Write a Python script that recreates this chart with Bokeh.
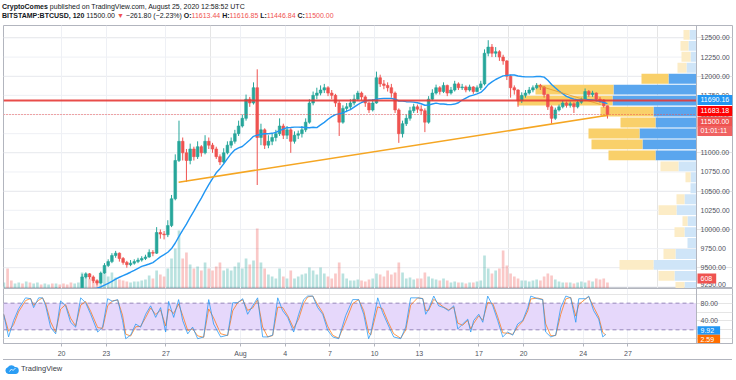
import numpy as np
from bokeh.plotting import figure
from bokeh.models import Range1d, FixedTicker, Grid, Span, Div, BoxAnnotation
from bokeh.layouts import column
from bokeh.embed import file_html
from bokeh.resources import INLINE
from bokeh.core.properties import value

FONT = "Liberation Sans"

# ---------------- header data ----------------
author = "CryptoComes"
pub_time = "August 25, 2020 12:58:52 UTC"
symbol = "BITSTAMP:BTCUSD"
interval = "120"
last_price = 11500.00
change = -261.80
change_pct = -2.23
ohlc_now = [11613.44, 11616.85, 11446.84, 11500.00]

# ---------------- candles (6h buckets, day = day-of-July, Aug 1 = 32) ----------------
first_day = 16.0
bucket = 0.25
first_open = 9170
closes = [
    9180, 9130, 9110, 9140,   9150, 9120, 9160, 9150,   9170, 9180, 9140, 9170,
    9200, 9190, 9220, 9210,   9180, 9170, 9150, 9160,   9200, 9380, 9420, 9380,
    9330, 9300, 9430, 9530,   9580, 9660, 9690, 9620,   9570, 9540, 9560, 9580,
    9600, 9620, 9640, 9700,   9690, 9960, 9940, 9930,   10050, 10400, 10900, 11150,
    11000, 10900, 11050, 10950,   11080, 11000, 11150, 11100,   11050, 10950, 10880, 11000,
    11100, 11150, 11250, 11350,   11450, 11700, 11650, 11850,   11200, 11300, 11100, 11150,
    11200, 11250, 11350, 11230,   11300, 11150, 11230, 11250,   11300, 11400, 11650, 11750,
    11780, 11820, 11850, 11780,   11750, 11650, 11400, 11580,   11600, 11650, 11700, 11780,
    11730, 11650, 11560, 11650,   11980, 11900, 11880, 11850,   11780, 11560, 11250, 11380,
    11450, 11550, 11600, 11570,   11550, 11400, 11700, 11780,   11850, 11800, 11880, 11780,
    11820, 11900, 11850, 11860,   11820, 11860, 11800, 11850,   11900, 12300, 12380, 12300,
    12320, 12250, 12200, 12000,   11850, 11820, 11680, 11750,   11780, 11820, 11850, 11880,
    11860, 11760, 11600, 11450,   11560, 11600, 11650, 11620,   11640, 11600, 11660, 11690,
    11800, 11760, 11780, 11700,   11690, 11613.44, 11500.00,
]
highs = [
    9210, 9190, 9150, 9160,   9170, 9160, 9180, 9180,   9190, 9210, 9190, 9190,
    9220, 9230, 9240, 9240,   9220, 9200, 9190, 9180,   9220, 9420, 9440, 9430,
    9400, 9350, 9450, 9560,   9610, 9690, 9720, 9700,   9640, 9590, 9600, 9610,
    9630, 9650, 9670, 9740,   9730, 10030, 10000, 9980,   10120, 10450, 10980, 11420,
    11200, 11050, 11120, 11080,   11150, 11100, 11230, 11200,   11130, 11080, 10980, 11060,
    11150, 11200, 11300, 11420,   11500, 11760, 11730, 11920,   12090, 11380, 11320, 11230,
    11260, 11300, 11450, 11380,   11350, 11320, 11280, 11290,   11350, 11450, 11700, 11800,
    11850, 11880, 11900, 11870,   11820, 11770, 11680, 11620,   11650, 11700, 11760, 11810,
    11800, 11750, 11670, 11700,   12060, 12020, 11950, 11920,   11900, 11800, 11580, 11420,
    11500, 11600, 11640, 11630,   11620, 11580, 11740, 11830,   11890, 11870, 11920, 11890,
    11860, 11940, 11920, 11900,   11880, 11890, 11870, 11880,   11940, 12350, 12470, 12420,
    12380, 12340, 12280, 12210,   12020, 11880, 11830, 11790,   11820, 11860, 11880, 11910,
    11900, 11870, 11770, 11620,   11590, 11630, 11680, 11670,   11670, 11660, 11690, 11720,
    11840, 11820, 11810, 11790,   11730, 11700, 11616.85,
]
lows = [
    9150, 9110, 9080, 9100,   9120, 9100, 9110, 9130,   9140, 9160, 9120, 9130,
    9160, 9170, 9180, 9190,   9160, 9140, 9130, 9130,   9150, 9190, 9360, 9350,
    9300, 9270, 9290, 9420,   9510, 9560, 9630, 9580,   9540, 9500, 9520, 9540,
    9560, 9580, 9600, 9630,   9650, 9680, 9880, 9870,   9900, 10030, 10380, 10880,
    10900, 10620, 10850, 10900,   10920, 10950, 10980, 11050,   11000, 10920, 10840, 10860,
    10980, 11060, 11120, 11220,   11330, 11420, 11600, 11630,   10580, 11100, 11050, 11060,
    11100, 11150, 11220, 11180,   11180, 11000, 11120, 11180,   11200, 11270, 11380, 11620,
    11700, 11750, 11780, 11740,   11700, 11600, 11220, 11380,   11530, 11570, 11620, 11680,
    11690, 11600, 11520, 11540,   11640, 11860, 11830, 11800,   11720, 11520, 11130, 11200,
    11350, 11420, 11520, 11520,   11500, 11270, 11380, 11680,   11760, 11760, 11780, 11740,
    11760, 11800, 11820, 11820,   11790, 11800, 11770, 11790,   11820, 11880, 12260, 12250,
    12250, 12200, 12150, 11950,   11720, 11760, 11600, 11650,   11720, 11760, 11790, 11830,
    11820, 11720, 11560, 11380,   11430, 11540, 11580, 11590,   11590, 11520, 11580, 11640,
    11680, 11730, 11730, 11670,   11650, 11590, 11446.84,
]
volumes = [
    600, 2000, 800, 500,   600, 500, 700, 600,   500, 600, 400, 500,
    400, 500, 500, 400,   500, 400, 600, 500,   600, 1600, 1200, 1000,
    900, 800, 1200, 1500,   1200, 1600, 1100, 900,   800, 700, 600, 700,
    700, 800, 900, 1300,   1000, 1800, 1400, 1200,   2000, 3000, 4000, 5800,
    3000, 3600, 2400, 2000,   2200, 1800, 2600, 2000,   1800, 2200, 2600, 1800,
    2000, 1800, 2200, 2600,   2000, 3000, 2400, 2800,   6000, 2600, 2000, 1400,
    1200, 1000, 2000, 1200,   1000, 1800, 1000, 1200,   1400, 1500, 2100, 1800,
    1400, 2100, 1500, 1200,   1000, 1500, 2600, 1500,   1000, 800, 800, 900,
    800, 700, 900, 1000,   1500, 1400, 1200, 1800,   1400, 1600, 2600, 1600,
    1000, 1100, 900, 1000,   1000, 1600, 1200, 1000,   900, 800, 1000, 800,
    600, 700, 600, 600,   500, 600, 600, 700,   800, 3300, 2000, 1500,
    1800, 2000, 3800, 2300,   1500, 1200, 1000, 800,   800, 700, 800, 900,
    800, 1200, 1500, 1300,   900, 700, 600, 600,   600, 500, 600, 700,
    600, 800, 700, 1000,   900, 1000, 608,
]
ma_period = 17
ma_last_label = 11690.16

# horizontal level & drawings
red_level = 11683.18
countdown = "01:01:11"
trend_day = [27.85, 56.64]
trend_price = [10616, 11490]
thin_day = [51.95, 56.17]
thin_price = [11879, 11630]

# volume profile (rows bottom -> top)
vp_first = 9179
vp_size = 143
vp_up = [12, 22, 43, 21, 9, 12, 9, 20, 12, 6, 6, 18, 41, 54, 57, 41, 43, 84, 83, 28, 10, 6, 8, 7]
vp_down = [9, 16, 34, 12, 0, 10, 5, 18, 8, 0, 5, 18, 47, 51, 51, 35, 53, 95, 78, 27, 9, 9, 8, 6]
va_low, va_high = 10895, 12039

# stochastic RSI (%K)
stoch_day = [16.11, 16.44, 16.78, 17.11, 17.58, 17.92, 18.12, 18.46, 18.72, 18.93, 19.26, 19.60,
             19.93, 20.27, 20.60, 20.94, 21.28, 21.61, 21.95, 22.42, 22.75, 23.09, 23.42, 23.76,
             24.09, 24.30, 24.63, 24.97, 25.30, 25.64, 25.97, 26.31, 26.64, 26.98, 27.18, 27.52,
             27.85, 28.12, 28.46, 28.79, 29.13, 29.53, 29.87, 30.20, 30.67, 31.14, 31.48, 31.81,
             32.15, 32.48, 32.82, 33.15, 33.49, 33.83, 34.16, 34.50, 34.83, 35.17, 35.57, 35.91,
             36.24, 36.51, 36.85, 37.18, 37.52, 37.85, 38.19, 38.59, 39.06, 39.53, 39.93, 40.27,
             40.60, 40.74, 41.21, 41.54, 41.88, 42.28, 42.75, 43.09, 43.42, 43.89, 44.23, 44.43,
             44.63, 44.97, 45.30, 45.64, 45.97, 46.31, 46.58, 46.91, 47.25, 47.45, 47.65, 47.99,
             48.26, 48.59, 48.93, 49.26, 49.60, 49.93, 50.27, 50.60, 50.94, 51.28, 51.48, 51.95,
             52.28, 52.48, 52.82, 53.15, 53.49, 53.83, 54.16, 54.50, 54.70, 55.17, 55.37, 55.70,
             56.04, 56.31, 56.51]
stoch_k = [55, 4, 41, 67, 92, 90, 70, 92, 92, 74, 26, 11, 85, 74, 37, 26, 92, 81, 55, 15, 26, 90, 84, 88,
           41, 0, 8, 33, 26, 55, 74, 48, 70, 15, 84, 48, 88, 41, 11, 26, 0, 4, 88, 33, 4, 8, 81, 81,
           90, 55, 74, 92, 4, 4, 8, 92, 63, 48, 15, 55, 88, 96, 96, 70, 55, 19, 4, 0, 52, 88, 88, 55,
           0, 11, 92, 59, 33, 4, 0, 26, 92, 92, 90, 55, 67, 96, 74, 70, 63, 74, 22, 33, 44, 15, 41, 55,
           37, 96, 74, 41, 4, 15, 8, 33, 41, 70, 96, 90, 88, 15, 4, 8, 70, 96, 92, 37, 90, 90, 96, 63,
           44, 4, 9.92]
stoch_d_last = 2.59

# axis ticks
day_ticks = [20, 23, 27, 32, 35, 38, 41, 44, 48, 51, 55, 58]
day_labels = ["20", "23", "27", "Aug", "4", "7", "10", "13", "17", "20", "24", "27"]
price_ticks = list(range(9250, 12501, 250))
stoch_ticks = [40, 80]

# ---------------- layout constants ----------------
W = 736
LEFT = 3
RIGHT = 4
CHART_PX = 693          # chart part of the frame, the price scale is to its right
FRAME_PX = W - LEFT - RIGHT
HEAD_H = 24
MAIN_H = 264
STO_H = 55
XAX_H = 16
FOOT_H = 21
X0, X1 = 16.1, 62.6
dpp = (X1 - X0) / CHART_PX
XEND = X0 + FRAME_PX * dpp
Y0, Y1 = 9229, 12662
S0, S1 = -10.8, 113
EDGE = 4.5              # keep scale texts this many px inside the pane

UP, DN = "#26a69a", "#ef5350"
GRID = "#eef0f5"
BORDER = "#b2b5be"
AXTXT = "#50535e"
TXT = dict(text_font=value(FONT), text_font_size=value("7px"))

# ---------------- derived ----------------
closes_a = np.array(closes, dtype=float)
opens_a = np.concatenate([[first_open], closes_a[:-1]])
highs_a = np.maximum.reduce([np.array(highs, float), opens_a, closes_a])
lows_a = np.minimum.reduce([np.array(lows, float), opens_a, closes_a])
n = len(closes_a)
xc = first_day + bucket * np.arange(n) + bucket / 2
is_up = closes_a >= opens_a
ccol = [UP if u else DN for u in is_up]
ma = np.full(n, np.nan)
for i in range(ma_period - 1, n):
    ma[i] = closes_a[i - ma_period + 1:i + 1].mean()

xr = Range1d(X0, XEND)


def price_scale(fig, ticks, fmt, lo, hi, pane_px):
    fig.add_layout(Span(location=X1, dimension="height", line_color=BORDER, line_width=1))
    ppu = pane_px / (hi - lo)
    t = [v for v in ticks if lo <= v <= hi]
    ys = [min(max(v, lo + EDGE / ppu), hi - EDGE / ppu) for v in t]
    fig.text(x=[X1] * len(t), y=ys, text=[fmt.format(v) for v in t], x_offset=4,
             text_baseline="middle", text_align="left", text_color=AXTXT, **TXT)


def tag(fig, y, text, bg, yname="default", full=True, h=10):
    w = (XEND - X1) / dpp - 1 if full else len(text) * 3.9 + 7
    cx = X1 + (1 + w / 2) * dpp
    fig.rect(x=[cx], y=[y], width=w, height=h, width_units="screen", height_units="screen",
             fill_color=bg, line_color=None, y_range_name=yname)
    fig.text(x=[X1], y=[y], text=[text], x_offset=4, text_baseline="middle", text_align="left",
             text_color="white", y_range_name=yname, **TXT)


# ---------------- main pane ----------------
p = figure(width=W, height=MAIN_H, x_range=xr, y_range=Range1d(Y0, Y1),
           output_backend="svg", toolbar_location=None, x_axis_location=None,
           y_axis_location=None, min_border_left=LEFT, min_border_right=RIGHT,
           min_border_top=1, min_border_bottom=0)
VOL_TOP = 26300
p.extra_x_ranges = {"vp": Range1d(CHART_PX, CHART_PX - FRAME_PX)}
p.extra_y_ranges = {"vol": Range1d(0, VOL_TOP)}
p.outline_line_color = BORDER
p.background_fill_color = "white"
p.border_fill_color = "white"
p.add_layout(Grid(dimension=0, ticker=FixedTicker(ticks=day_ticks), grid_line_color=GRID))
p.segment(x0=X0, x1=X1, y0=price_ticks, y1=price_ticks, line_color=GRID, line_width=1)

# volume profile
vp_up_a = np.array(vp_up, float)
vp_dn_a = np.array(vp_down, float)
vp_lo = vp_first + vp_size * np.arange(len(vp_up))
vp_mid = vp_lo + vp_size / 2
in_va = (vp_lo >= va_low - 1) & (vp_lo + vp_size <= va_high + 1)
up_fill = ["#5aa6ee" if v else "#cfe5f8" for v in in_va]
dn_fill = ["#f9d06a" if v else "#fcecc6" for v in in_va]
p.hbar(y=vp_mid, height=vp_size * 0.9, left=0, right=vp_up_a, x_range_name="vp",
       fill_color=up_fill, line_color=None)
p.hbar(y=vp_mid, height=vp_size * 0.9, left=vp_up_a, right=vp_up_a + vp_dn_a, x_range_name="vp",
       fill_color=dn_fill, line_color=None)

# volume
p.vbar(x=xc, width=bucket * 0.72, top=volumes, bottom=0, y_range_name="vol",
       fill_color=ccol, line_color=None, fill_alpha=0.32)

# candles
p.segment(x0=xc, y0=lows_a, x1=xc, y1=highs_a, line_color=ccol, line_width=1)
p.vbar(x=xc, width=bucket * 0.72, top=np.maximum(opens_a, closes_a),
       bottom=np.minimum(opens_a, closes_a), fill_color=ccol, line_color=ccol, line_width=0.6)

# MA
p.line(xc, ma, line_color="#2196f3", line_width=1.4)

# drawings
p.line(trend_day, trend_price, line_color="#f5a623", line_width=1.6)
p.line(thin_day, thin_price, line_color="#e39a2d", line_width=1, line_alpha=0.8)
p.segment(x0=[X0], x1=[X1], y0=[red_level], y1=[red_level], line_color="#e53935",
          line_width=2, line_alpha=0.9)
p.segment(x0=[X0], x1=[X1], y0=[closes_a[-1]], y1=[closes_a[-1]], line_color=DN,
          line_width=1, line_dash="1 2")

frame_h = MAIN_H - 1
price_scale(p, price_ticks, "{:.2f}", Y0, Y1, frame_h)

# stacked price tags on the price scale
ppp = frame_h / (Y1 - Y0)
tags = [(f"{ma_last_label:.2f}", ma_last_label, "#2196f3", 11.0),
        (f"{red_level:.2f}", red_level, "#ff0000", 10.5),
        (f"{closes_a[-1]:.2f}", closes_a[-1], DN, 9.5),
        (countdown, None, "#f06262", 0)]
prev = None
prev_gap = 0
for text, price, bg, gap in tags:
    if price is None:
        sy = prev + prev_gap
    else:
        own = (Y1 - price) * ppp
        sy = own if prev is None else max(own, prev + prev_gap)
    tag(p, Y1 - sy / ppp, text, bg)
    prev, prev_gap = sy, gap

# volume tag, kept a box-height above the pane bottom
vppu = frame_h / VOL_TOP
tag(p, max(volumes[-1], 10 / vppu), f"{volumes[-1]:.0f}", DN if not is_up[-1] else UP,
    "vol", full=False)

# ---------------- stochastic RSI pane ----------------
s = figure(width=W, height=STO_H + XAX_H, x_range=xr, y_range=Range1d(S0, S1),
           output_backend="svg", toolbar_location=None, y_axis_location=None,
           min_border_left=LEFT, min_border_right=RIGHT, min_border_top=0,
           min_border_bottom=XAX_H)
s.outline_line_color = BORDER
s.xgrid.grid_line_color = GRID
s.add_layout(BoxAnnotation(left=X0, right=X1, bottom=20, top=80, fill_color="#e6d8fb",
                           fill_alpha=1, line_color=None, level="underlay"))
s.segment(x0=X0, x1=X1, y0=[20, 80], y1=[20, 80], line_color="#9787bd",
          line_width=1, line_dash="4 3")
k_a = np.array(stoch_k, float)
d_a = np.concatenate([[k_a[0]], 0.75 * k_a[1:] + 0.25 * k_a[:-1]])
s.line(stoch_day, d_a, line_color="#ff6d00", line_width=1, line_alpha=0.7)
s.line(stoch_day, k_a, line_color="#2196f3", line_width=1, line_alpha=0.75)

xa = s.xaxis[0]
xa.ticker = FixedTicker(ticks=day_ticks)
xa.major_label_overrides = {t: lab for t, lab in zip(day_ticks, day_labels)}
xa.major_label_text_font = FONT
xa.major_label_text_font_size = "7px"
xa.major_label_text_color = AXTXT
xa.major_tick_out = 3
xa.major_tick_in = 0
xa.major_tick_line_color = BORDER
xa.minor_tick_line_color = None
xa.axis_line_color = BORDER
xa.major_label_standoff = 3

price_scale(s, stoch_ticks, "{:.2f}", S0, S1, STO_H)
sppu = STO_H / (S1 - S0)
k_last = k_a[-1]
# stack the two value tags upward from the pane bottom so both stay readable
TAG_H = 8.5
d_px = max((k_last - S0) * sppu - TAG_H, EDGE)
k_px = max((k_last - S0) * sppu, d_px + TAG_H)
tag(s, S0 + k_px / sppu, f"{k_last:.2f}", "#2196f3", full=False, h=TAG_H)
tag(s, S0 + d_px / sppu, f"{stoch_d_last:.2f}", "#ff6d00", full=False, h=TAG_H)

# ---------------- header / footer ----------------
red = "#ef5350"
dark = "#131722"
o_, h_, l_, c_ = ohlc_now
head_html = (
    f"<div style=\"font-family:'{FONT}';font-size:7px;line-height:9px;color:{dark};"
    f"padding:2px 0 0 2px;white-space:nowrap\">"
    f"<b>{author}</b> published on TradingView.com, {pub_time}<br>"
    f"<b>{symbol}, {interval}</b> {last_price:.2f} <span style='color:{red}'>&#9660;</span> "
    f"&minus;{abs(change):.2f} (&minus;{abs(change_pct):.2f}%) "
    f"<b>O:</b><span style='color:{red}'>{o_:.2f}</span> "
    f"<b>H:</b><span style='color:{red}'>{h_:.2f}</span> "
    f"<b>L:</b><span style='color:{red}'>{l_:.2f}</span> "
    f"<b>C:</b><span style='color:{red}'>{c_:.2f}</span></div>"
)
head = Div(text=head_html, width=W, height=HEAD_H, margin=(0, 0, 0, 0))

foot_html = (
    f"<div style=\"margin-left:{LEFT}px;border-top:1px solid {BORDER};width:{FRAME_PX}px;"
    f"height:{FOOT_H - 1}px;display:flex;align-items:center;font-family:'{FONT}';"
    f"font-size:7.5px;color:#3a3d47;\">"
    "<svg width='14' height='9' viewBox='0 0 28 18' style='margin-left:2px'>"
    "<path d='M7 18 A7 7 0 0 1 5.5 4.5 A9 9 0 0 1 20 4 A7 7 0 0 1 21 18 Z' fill='#2a9df4'/>"
    "<path d='M9 13 L13 8 L16 11 L21 6' stroke='white' stroke-width='1.6' fill='none'/></svg>"
    "<span style='margin-left:2px'>TradingView</span></div>"
)
foot = Div(text=foot_html, width=W, height=FOOT_H, margin=(0, 0, 0, 0))

layout = column(head, p, s, foot, spacing=0)
open("out.html", "w").write(file_html(layout, INLINE))
